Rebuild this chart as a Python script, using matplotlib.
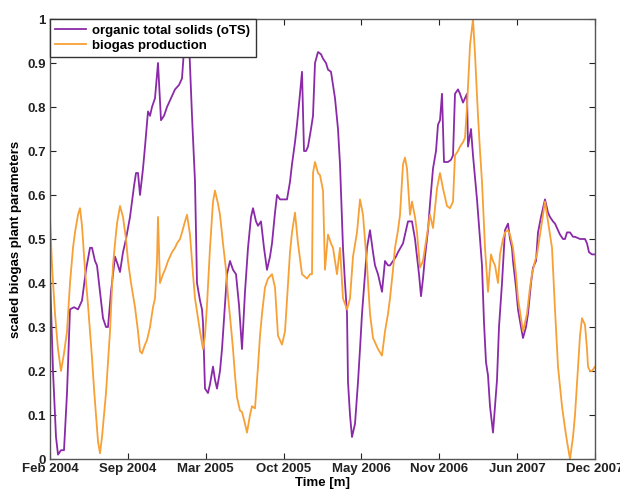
import numpy as np
import matplotlib
matplotlib.use("Agg")
import matplotlib.pyplot as plt

# (sample index, scaled value) for organic total solids (oTS)
ots_points = [
    (0, .42), (3, .20), (6, .05), (8, .01), (11, .02), (14, .02), (17, .15), (20, .34), (24, .345), (28, .34),
    (32, .36), (36, .43), (40, .48), (42, .48), (45, .45), (47, .44), (50, .38), (53, .32), (56, .30), (58, .30),
    (61, .38), (65, .46), (68, .44), (70, .425), (73, .47), (76, .50), (80, .55), (84, .62), (86, .65), (88, .65),
    (90, .60), (93, .66), (95, .71), (98, .79), (100, .78), (102, .80), (105, .82), (108, .90), (111, .77), (114, .78),
    (117, .80), (121, .82), (125, .84), (129, .85), (132, .865), (134, .93), (136, .97), (139, .95), (142, .78), (145, .63),
    (147, .40), (150, .36), (152, .34), (153, .31), (155, .16), (158, .15), (160, .17), (163, .21), (165, .18), (167, .16),
    (170, .20), (172, .25), (175, .35), (177, .42), (180, .45), (183, .43), (186, .42), (189, .35), (192, .25), (195, .38),
    (198, .48), (201, .55), (203, .57), (206, .54), (208, .53), (211, .54), (214, .48), (217, .43), (220, .46), (222, .49),
    (225, .56), (227, .60), (230, .59), (234, .59), (237, .59), (240, .63), (242, .67), (245, .72), (247, .76), (250, .83),
    (252, .88), (254, .70), (256, .70), (258, .71), (261, .75), (263, .78), (265, .90), (268, .925), (271, .92), (273, .91),
    (276, .90), (278, .885), (281, .88), (285, .82), (288, .75), (290, .67), (293, .48), (295, .40), (297, .33), (298, .175),
    (300, .10), (302, .05), (305, .08), (308, .175), (310, .25), (312, .33), (315, .42), (317, .48), (320, .52), (323, .47),
    (325, .44), (328, .42), (330, .40), (332, .38), (335, .45), (338, .44), (340, .44), (343, .45), (346, .46), (348, .47),
    (353, .49), (355, .51), (358, .54), (362, .54), (365, .50), (367, .46), (369, .42), (371, .37), (373, .41), (375, .46),
    (378, .52), (380, .58), (383, .66), (386, .70), (388, .76), (390, .77), (392, .83), (394, .675), (398, .675), (401, .68),
    (403, .69), (405, .83), (408, .84), (410, .83), (413, .81), (415, .82), (417, .83), (418, .71), (421, .75), (423, .69),
    (427, .59), (430, .50), (432, .44), (434, .31), (436, .22), (438, .19), (440, .12), (443, .06), (447, .18), (449, .30),
    (452, .40), (455, .52), (458, .535), (460, .50), (462, .48), (463, .45), (466, .39), (468, .34), (471, .30), (473, .275),
    (476, .30), (478, .33), (481, .40), (483, .435), (486, .45), (488, .515), (491, .55), (493, .57), (495, .59), (498, .56),
    (500, .55), (503, .54), (505, .535), (508, .52), (510, .51), (513, .50), (515, .50), (517, .515), (520, .515), (523, .505),
    (525, .505), (530, .50), (535, .50), (537, .49), (539, .47), (542, .465), (545, .465),
]

# (sample index, scaled value) for biogas production
gas_points = [
    (0, .55), (2, .44), (5, .33), (8, .25), (11, .20), (14, .24), (17, .29), (20, .40), (23, .48), (25, .515),
    (28, .555), (30, .57), (32, .53), (35, .43), (38, .35), (40, .29), (42, .23), (44, .16), (46, .10), (48, .04),
    (50, .013), (52, .05), (54, .10), (56, .15), (58, .22), (60, .29), (63, .44), (65, .49), (67, .535), (70, .575),
    (73, .55), (76, .50), (78, .45), (81, .40), (85, .345), (88, .29), (90, .245), (92, .24), (95, .26), (97, .27),
    (100, .30), (103, .345), (105, .365), (107, .45), (108, .55), (110, .40), (113, .42), (115, .43), (118, .45), (122, .47),
    (125, .48), (127, .49), (130, .50), (132, .515), (135, .54), (137, .555), (140, .51), (143, .42), (145, .365), (148, .32),
    (150, .29), (153, .25), (155, .28), (157, .35), (160, .48), (163, .585), (165, .61), (168, .58), (170, .555), (173, .49),
    (176, .43), (178, .37), (181, .30), (183, .25), (185, .19), (187, .14), (190, .11), (192, .107), (195, .08), (197, .06),
    (200, .10), (202, .12), (205, .115), (208, .21), (210, .28), (212, .33), (215, .39), (218, .41), (222, .42), (225, .39),
    (228, .28), (232, .26), (235, .29), (238, .40), (240, .47), (242, .515), (245, .56), (248, .49), (252, .42), (257, .41),
    (260, .42), (262, .42), (263, .65), (265, .675), (268, .65), (270, .645), (273, .61), (275, .43), (278, .51), (281, .49),
    (283, .48), (287, .42), (290, .48), (293, .365), (297, .34), (300, .365), (303, .46), (307, .515), (310, .59), (313, .555),
    (317, .44), (320, .33), (323, .275), (326, .26), (328, .25), (332, .235), (335, .29), (338, .33), (340, .365), (343, .43),
    (345, .48), (348, .52), (350, .555), (353, .67), (355, .685), (357, .66), (360, .555), (362, .585), (365, .55), (367, .515),
    (370, .435), (373, .45), (377, .51), (380, .555), (383, .525), (387, .615), (390, .65), (393, .615), (397, .575), (400, .57),
    (403, .585), (405, .69), (408, .70), (410, .71), (413, .72), (415, .73), (417, .80), (420, .94), (423, 1.0), (425, .92),
    (428, .78), (430, .70), (432, .63), (435, .48), (438, .38), (441, .465), (443, .45), (445, .44), (448, .40), (450, .465),
    (453, .50), (455, .515), (458, .52), (460, .51), (463, .48), (466, .42), (468, .365), (471, .32), (473, .29), (475, .31),
    (477, .33), (480, .39), (482, .42), (485, .45), (487, .465), (490, .51), (492, .54), (495, .585), (498, .54), (500, .51),
    (502, .48), (505, .34), (508, .21), (512, .12), (515, .07), (517, .04), (520, .0), (523, .05), (525, .10), (528, .21),
    (530, .28), (532, .32), (535, .305), (537, .25), (538, .21), (540, .20), (542, .20), (545, .21),
]

tick_labels = ["Feb 2004", "Sep 2004", "Mar 2005", "Oct 2005", "May 2006",
               "Nov 2006", "Jun 2007", "Dec 2007"]
ytick_labels = ["0", "0.1", "0.2", "0.3", "0.4", "0.5", "0.6", "0.7", "0.8", "0.9", "1"]
n_samples = 545

ots_x, ots_y = zip(*ots_points)
gas_x, gas_y = zip(*gas_points)

c_ots = "#8a2aa8"
c_gas = "#f7a035"

plt.rcParams['font.family'] = ['Liberation Sans', 'DejaVu Sans']
plt.rcParams['font.weight'] = 'bold'

fig = plt.figure(figsize=(6.2, 4.92), dpi=100)
ax = fig.add_axes([50/620, 1-459/492, 545/620, 440/492])

ax.plot(ots_x, ots_y, color=c_ots, lw=1.3, label="organic total solids (oTS)")
ax.plot(gas_x, gas_y, color=c_gas, lw=1.3, label="biogas production")

ax.set_xlim(0, n_samples)
ax.set_ylim(0, 1)
ax.set_xticks(np.linspace(0, n_samples, len(tick_labels)))
ax.set_xticklabels(tick_labels)
ax.set_yticks(np.linspace(0, 1, len(ytick_labels)))
ax.set_yticklabels(ytick_labels)
ax.tick_params(direction='in', top=True, right=True, labelsize=9.5, length=4, width=0.8,
               colors='#222222', pad=3)
for s in ax.spines.values():
    s.set_color('#555555')
    s.set_linewidth(1.0)

ax.set_xlabel("Time [m]", fontsize=9.5, fontweight='bold', labelpad=1)
ax.set_ylabel("scaled biogas plant parameters", fontsize=9.5, fontweight='bold', labelpad=4)

leg = ax.legend(loc='upper left', fontsize=9.5, frameon=True, fancybox=False,
                borderaxespad=0, handlelength=2.3, borderpad=0.4, labelspacing=0.25,
                handletextpad=0.5)
leg.get_frame().set_edgecolor('#333333')
leg.get_frame().set_linewidth(1.0)
leg.get_frame().set_alpha(1)

fig.savefig("out.png", dpi=100)
